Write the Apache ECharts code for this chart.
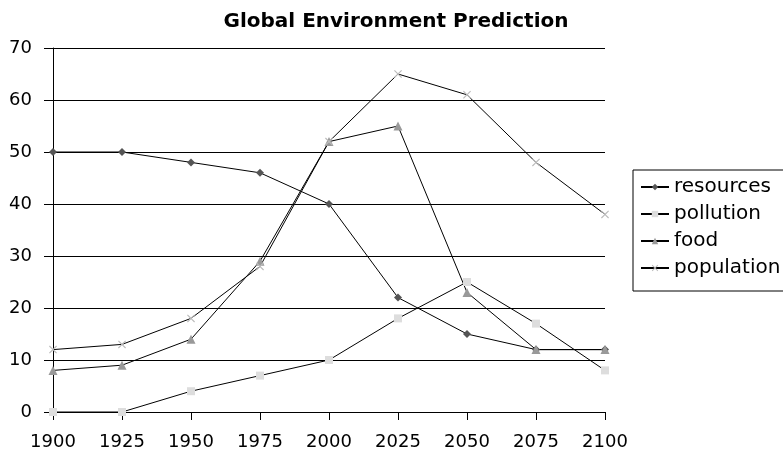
<!DOCTYPE html>
<html><head><meta charset="utf-8">
<script src="https://cdn.jsdelivr.net/npm/echarts@6/dist/echarts.min.js"></script>
<style>html,body{margin:0;padding:0;background:#fff}#c{width:783px;height:453px}</style>
</head><body><div id="c"></div>
<script>
const years = ['1900','1925','1950','1975','2000','2025','2050','2075','2100'];
const resources = [50,50,48,46,40,22,15,12,12];
const pollution = [0,0,4,7,10,18,25,17,8];
const food = [8,9,14,29,52,55,23,12,12];
const population = [12,13,18,28,52,65,61,48,38];
const yTicks = {min:0, max:70, interval:10};

const FONT = '"DejaVu Sans", sans-serif';
const xPath = 'path://M0,1 L1,0 L5,4 L9,0 L10,1 L6,5 L10,9 L9,10 L5,6 L1,10 L0,9 L4,5 Z';
function s(name, data, symbol, size, color){
  return {name, type:'line', data, symbol, symbolSize:size, showSymbol:true,
    lineStyle:{color:'#000', width:1}, itemStyle:{color}, animation:false};
}
const chart = echarts.init(document.getElementById('c'));
chart.setOption({
  animation:false,
  title:{text:'Global Environment Prediction', left:391, top:7, textAlign:'center',
    textStyle:{fontFamily:FONT, fontWeight:'bold', fontSize:20, color:'#000'}},
  grid:{left:53, right:178, top:48, bottom:41, containLabel:false},
  legend:{orient:'vertical', left:633, top:170, itemWidth:28, itemHeight:8, itemGap:7,
    borderColor:'#000', borderWidth:1, padding:[7,40,13,7],
    textStyle:{fontFamily:FONT, fontSize:20, color:'#000'},
    data:['resources','pollution','food','population']},
  xAxis:{type:'category', data:years, boundaryGap:false,
    axisLine:{lineStyle:{color:'#000', width:1}},
    axisTick:{show:true, length:8, lineStyle:{color:'#000'}},
    axisLabel:{fontFamily:FONT, fontSize:18, color:'#000', margin:21},
    splitLine:{show:false}},
  yAxis:{type:'value', min:yTicks.min, max:yTicks.max, interval:yTicks.interval,
    axisLine:{show:true, lineStyle:{color:'#000', width:1}},
    axisTick:{show:true, length:9, lineStyle:{color:'#000'}},
    axisLabel:{fontFamily:FONT, fontSize:18, color:'#000', margin:21},
    splitLine:{show:true, lineStyle:{color:'#000', width:1}}},
  series:[
    s('resources', resources, 'diamond', 8, '#555'),
    s('pollution', pollution, 'rect', 8, '#ddd'),
    s('food', food, 'triangle', 9, '#999'),
    s('population', population, xPath, 8, '#bbb')
  ]
});
</script></body></html>
